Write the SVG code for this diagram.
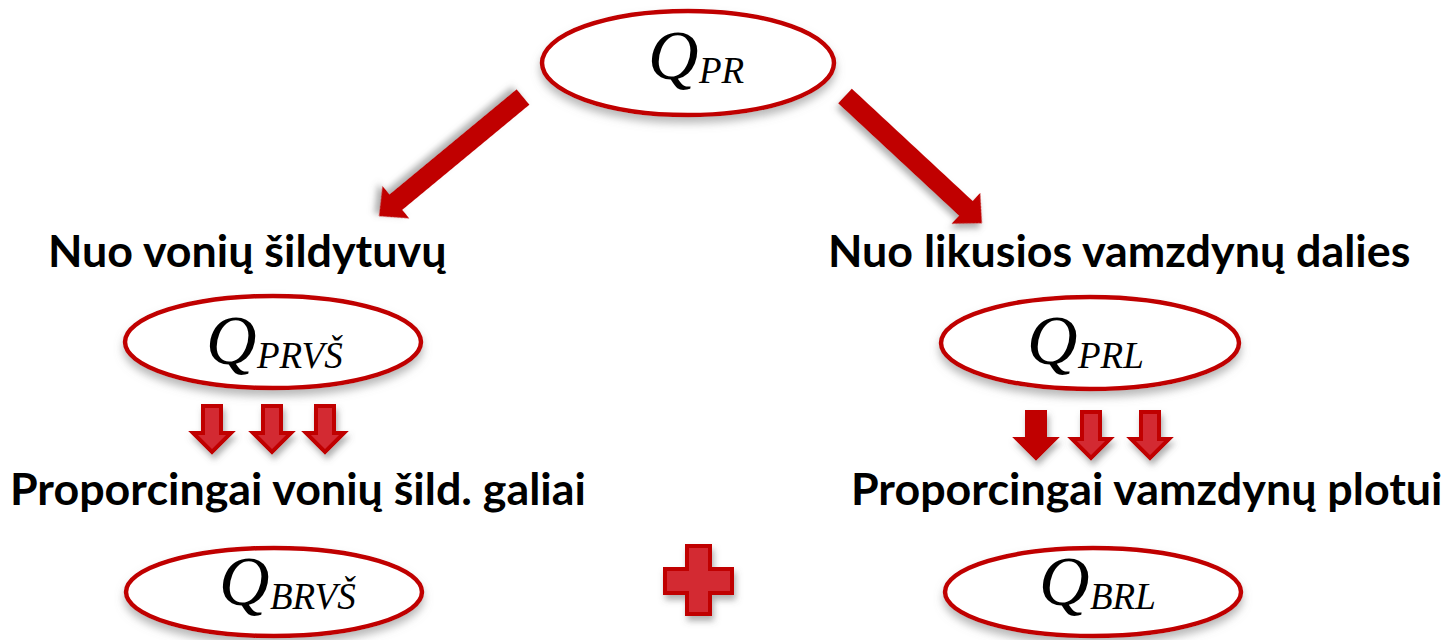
<svg xmlns="http://www.w3.org/2000/svg" width="1453" height="640" viewBox="0 0 1453 640">
<defs>
<filter id="sh" x="-20%" y="-20%" width="140%" height="160%">
<feDropShadow dx="0" dy="6" stdDeviation="4" flood-color="#808080" flood-opacity="0.55"/>
</filter>
<filter id="sh2" x="-30%" y="-30%" width="160%" height="160%">
<feDropShadow dx="2" dy="5" stdDeviation="3" flood-color="#606060" flood-opacity="0.5"/>
</filter>
<polygon id="da" points="-9,2 9,2 9,29 19,29 0,48 -19,29 -9,29"/>
</defs>
<style>
.el{fill:#fff;stroke:#C00000;stroke-width:4.5;filter:url(#sh)}
.q{font-family:"Liberation Serif",serif;font-style:italic;fill:#000;font-size:70px}
.s{font-family:"Liberation Serif",serif;font-style:italic;fill:#000;font-size:37px}
.t{font-family:Lato,"Liberation Sans",sans-serif;font-weight:bold;font-size:44.8px;fill:#000}
.big{fill:#C00000;filter:url(#sh2)}
.sa{fill:#D32A33;stroke:#C00000;stroke-width:4;stroke-linejoin:miter;filter:url(#sh2)}
.sas{fill:#C00000;stroke:#C00000;stroke-width:4;filter:url(#sh2)}
</style>
<rect width="1453" height="640" fill="#fff"/>
<g id="connectors">
<path class="big" d="M0,-10 L165,-10 L165,-21 L187,0 L165,21 L165,10 L0,10 Z" transform="translate(523,97) rotate(140.4)"/>
<path class="big" d="M0,-10 L165,-10 L165,-21 L187,0 L165,21 L165,10 L0,10 Z" transform="translate(845,96) rotate(42.9)"/>
<use href="#da" class="sa" x="212" y="404"/>
<use href="#da" class="sa" x="272" y="404"/>
<use href="#da" class="sa" x="325" y="404"/>
<use href="#da" class="sas" x="1036" y="410"/>
<use href="#da" class="sa" x="1091" y="410"/>
<use href="#da" class="sa" x="1150" y="410"/>
</g>
<g id="n-qpr">
<ellipse class="el" cx="688" cy="63" rx="146" ry="52"/>
<text class="q" x="648" y="79">Q</text>
<text class="s" x="699" y="83">PR</text>
</g>
<g id="t-left">
<text class="t" x="48" y="267">Nuo vonių šildytuvų</text>
</g>
<g id="t-right">
<text class="t" x="828" y="267">Nuo likusios vamzdynų dalies</text>
</g>
<g id="n-qprvs">
<ellipse class="el" cx="273" cy="342" rx="148" ry="46"/>
<text class="q" x="206" y="364">Q</text>
<text class="s" x="257" y="368">PRVŠ</text>
</g>
<g id="n-qprl">
<ellipse class="el" cx="1090" cy="343" rx="149" ry="46"/>
<text class="q" x="1027" y="364">Q</text>
<text class="s" x="1078" y="368">PRL</text>
</g>
<g id="t-left2">
<text class="t" x="10" y="505">Proporcingai vonių šild. galiai</text>
</g>
<g id="t-right2">
<text class="t" x="851" y="505">Proporcingai vamzdynų plotui</text>
</g>
<g id="n-qbrvs">
<ellipse class="el" cx="274" cy="592" rx="148" ry="44"/>
<text class="q" x="219" y="605">Q</text>
<text class="s" x="270" y="609">BRVŠ</text>
</g>
<g id="plus">
<path class="sa" d="M687,546 H710 V569 H732 V593 H710 V614 H687 V593 H665 V569 H687 Z"/>
</g>
<g id="n-qbrl">
<ellipse class="el" cx="1093" cy="592" rx="148" ry="44"/>
<text class="q" x="1039" y="605">Q</text>
<text class="s" x="1090" y="609">BRL</text>
</g>
</svg>
